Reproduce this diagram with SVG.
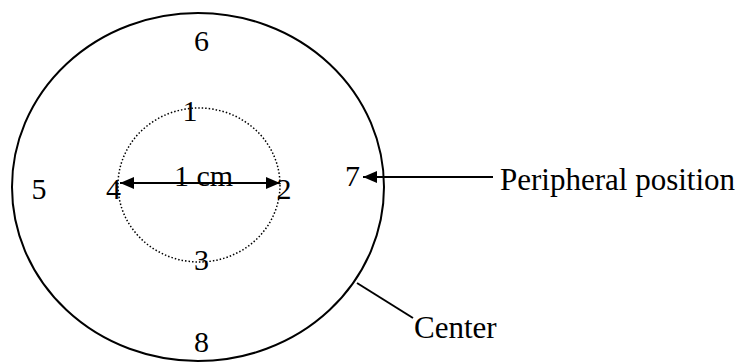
<svg xmlns="http://www.w3.org/2000/svg" width="744" height="363" viewBox="0 0 744 363">
<defs>
<style>
.t{font-family:"Liberation Serif","Times New Roman",serif;font-size:30px;fill:#000}
.lb{font-family:"Liberation Serif","Times New Roman",serif;font-size:31px;fill:#000}
.ln{stroke:#000;stroke-width:2;fill:none}
</style>
<marker id="ah" viewBox="0 0 14 12" refX="14" refY="6" markerWidth="14" markerHeight="12" markerUnits="userSpaceOnUse" orient="auto-start-reverse">
<path d="M0,0 L14,6 L0,12 Z" fill="#000"/>
</marker>
</defs>
<rect width="744" height="363" fill="#fff"/>
<g id="outer">
<ellipse cx="198" cy="187" rx="186" ry="174" class="ln"/>
</g>
<g id="inner">
<ellipse cx="199" cy="185" rx="81" ry="77" fill="none" stroke="#000" stroke-width="1.5" stroke-dasharray="1.5 2"/>
</g>
<g id="connectors">
<line x1="120" y1="183" x2="280" y2="183" class="ln" marker-start="url(#ah)" marker-end="url(#ah)"/>
<line x1="493" y1="177" x2="363" y2="177" class="ln" marker-end="url(#ah)"/>
<line x1="357" y1="283" x2="413" y2="318" class="ln"/>
</g>
<g id="labels">
<text class="t" x="201.5" y="51" text-anchor="middle">6</text>
<text class="t" x="190" y="121" text-anchor="middle">1</text>
<text class="t" x="39" y="199" text-anchor="middle">5</text>
<text class="t" x="113.5" y="199" text-anchor="middle">4</text>
<text class="t" x="284" y="199" text-anchor="middle">2</text>
<text class="t" x="203.5" y="186" text-anchor="middle">1 cm</text>
<text class="t" x="352.5" y="186" text-anchor="middle">7</text>
<text class="t" x="201.5" y="270" text-anchor="middle">3</text>
<text class="t" x="201.5" y="352" text-anchor="middle">8</text>
</g>
<g id="peripheral">
<text class="lb" x="500" y="190">Peripheral position</text>
</g>
<g id="center">
<text class="lb" x="414" y="338">Center</text>
</g>
</svg>
